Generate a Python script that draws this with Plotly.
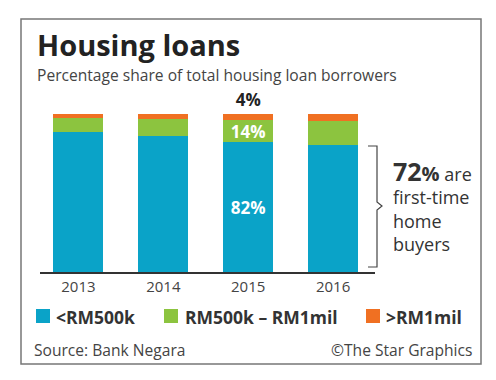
import plotly.graph_objects as go

years = ["2013", "2014", "2015", "2016"]
below_500k = [88.5, 86, 82, 80.5]
mid_500k_1mil = [9, 11, 14, 15]
above_1mil = [2.5, 3, 4, 4.5]
label_year = "2015"
series_names = ["<RM500k", "RM500k – RM1mil", ">RM1mil"]
colors = ["#0aa3c8", "#8cc43f", "#f07022"]

W, H = 496, 380
L, R, T, B = 40, 375, 114, 272  # plot area in pixels

def px(x):
    return (x - L) / (R - L)

def py(y):
    return (B - y) / (B - T)

FONT = "Open Sans"

def seg_text(vals):
    return [f"{v:g}%" if y == label_year else "" for y, v in zip(years, vals)]

fig = go.Figure()
for name, vals, col, pos, tcol in [
    (series_names[0], below_500k, colors[0], "inside", "white"),
    (series_names[1], mid_500k_1mil, colors[1], "inside", "white"),
    (series_names[2], above_1mil, colors[2], "outside", "#222"),
]:
    fig.add_trace(go.Bar(
        x=years, y=vals, name=name, marker=dict(color=col, line=dict(width=0)),
        text=seg_text(vals), textposition=pos, insidetextanchor="middle",
        constraintext="none", cliponaxis=False, textangle=0,
        textfont=dict(family=FONT, size=17, color=tcol, weight="bold"),
        showlegend=False, hoverinfo="skip",
    ))

ann = []
# title and subtitle
ann.append(dict(x=px(35), y=py(45), xref="paper", yref="paper", xanchor="left", yanchor="middle",
                text="<b>Housing loans</b>", showarrow=False,
                font=dict(family=FONT, size=29, color="#222")))
ann.append(dict(x=px(35), y=py(75), xref="paper", yref="paper", xanchor="left", yanchor="middle",
                text="Percentage share of total housing loan borrowers", showarrow=False,
                font=dict(family=FONT, size=15.6, color="#444")))
# side note
ann.append(dict(x=px(391), y=py(205), xref="paper", yref="paper", xanchor="left", yanchor="middle",
                text="<b><span style='font-size:25px'>72</span><span style='font-size:20px'>%</span></b> are<br>first-time<br>home<br>buyers",
                showarrow=False, align="left",
                font=dict(family=FONT, size=18, color="#333")))
# legend
leg = [(36, 54, series_names[0], colors[0]), (164, 183, series_names[1], colors[1]), (366, 384, series_names[2], colors[2])]
shapes = []
for sx, tx, name, col in leg:
    shapes.append(dict(type="rect", xref="paper", yref="paper",
                       x0=px(sx), x1=px(sx + 14), y0=py(323), y1=py(309),
                       fillcolor=col, line=dict(width=0)))
    ann.append(dict(x=px(tx), y=py(317), xref="paper", yref="paper", xanchor="left", yanchor="middle",
                    text=f"<b>{name.replace('<', '&lt;')}</b>", showarrow=False,
                    font=dict(family=FONT, size=17.5, color="#333")))
# source / credit
ann.append(dict(x=px(32), y=py(350), xref="paper", yref="paper", xanchor="left", yanchor="middle",
                text="Source: Bank Negara", showarrow=False,
                font=dict(family=FONT, size=15.6, color="#444")))
ann.append(dict(x=px(474), y=py(350), xref="paper", yref="paper", xanchor="right", yanchor="middle",
                text="©The Star Graphics", showarrow=False,
                font=dict(family=FONT, size=15.6, color="#444")))
# frame
shapes.append(dict(type="rect", xref="paper", yref="paper",
                   x0=px(21), x1=px(481), y0=py(364), y1=py(19),
                   line=dict(color="#777", width=1.5), fillcolor="rgba(0,0,0,0)", layer="below"))
# bracket
bx0, bx1, bt, bb, bm = 368, 377, 146, 267, 206
path = (f"M {px(bx0)},{py(bt)} L {px(bx1)},{py(bt)} L {px(bx1)},{py(bm-4)} "
        f"L {px(bx1+5)},{py(bm)} L {px(bx1)},{py(bm+4)} L {px(bx1)},{py(bb)} L {px(bx0)},{py(bb)}")
shapes.append(dict(type="path", xref="paper", yref="paper", path=path,
                   line=dict(color="#444", width=1.2)))

fig.update_layout(
    width=W, height=H, barmode="stack", bargap=0.41,
    margin=dict(l=L, r=W - R, t=T, b=H - B, autoexpand=False),
    paper_bgcolor="white", plot_bgcolor="white",
    annotations=ann, shapes=shapes, showlegend=False,
)
fig.update_xaxes(type="category", range=[-0.453, 3.494], showline=True, linecolor="#333", linewidth=2,
                 ticks="", tickfont=dict(family=FONT, size=15, color="#444"), showgrid=False, fixedrange=True)
fig.update_yaxes(range=[0, 100], visible=False, showgrid=False, fixedrange=True)

fig.write_html("out.html", config={"displayModeBar": False},
               post_script="document.body.style.margin='0';document.body.style.overflow='hidden';")
